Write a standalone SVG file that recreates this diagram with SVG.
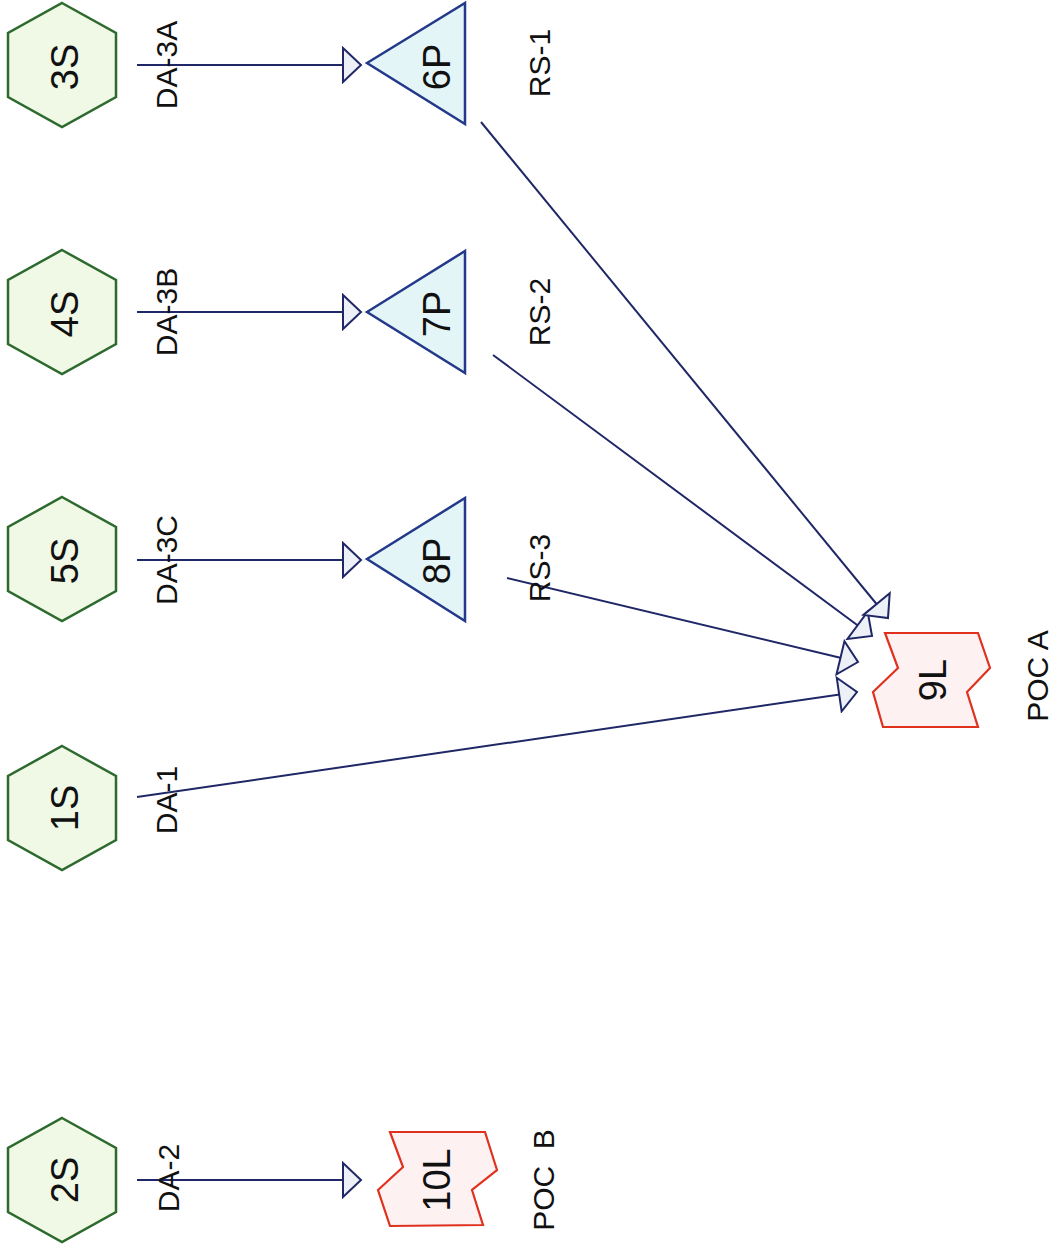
<svg xmlns="http://www.w3.org/2000/svg" width="1051" height="1251" viewBox="0 0 1051 1251">
<style>
text{font-family:"Liberation Sans",Arial,sans-serif;fill:#111;text-anchor:middle;dominant-baseline:central}
.lbl{font-size:30px}
.nl{font-size:38px}
.hex{fill:#f0f8e6;stroke:#2d6a2d;stroke-width:2.5}
.tri{fill:#e4f5f8;stroke:#23398a;stroke-width:2.5}
.poc{fill:#fdf1f1;stroke:#e0301e;stroke-width:2.2}
.edge{fill:none;stroke:#1f2766;stroke-width:2;marker-end:url(#arr)}
</style>
<defs>
<marker id="arr" markerUnits="userSpaceOnUse" markerWidth="22" markerHeight="38" viewBox="0 0 22 38" refX="20" refY="19" orient="auto">
<path d="M2,2 L20,19 L2,36 Z" fill="#eef0f8" stroke="#1f2766" stroke-width="2"/>
</marker>
</defs>
<g id="connectors">
<line class="edge" x1="137" y1="65" x2="361" y2="65"/>
<line class="edge" x1="137" y1="312" x2="361" y2="312"/>
<line class="edge" x1="137" y1="560" x2="361" y2="560"/>
<line class="edge" x1="137" y1="1180" x2="361" y2="1180"/>
<line class="edge" x1="137" y1="797" x2="857" y2="692"/>
<line class="edge" x1="507" y1="578" x2="858" y2="662"/>
<line class="edge" x1="493" y1="355" x2="872" y2="636"/>
<line class="edge" x1="481" y1="122" x2="888" y2="618"/>
</g>
<g id="node-3S"><polygon class="hex" points="62,3 116,33 116,97 62,127 8,97 8,33"/><text class="nl" transform="translate(65,67) rotate(-90)">3S</text></g>
<g id="node-4S"><polygon class="hex" points="62,250 116,280 116,344 62,374 8,344 8,280"/><text class="nl" transform="translate(65,314) rotate(-90)">4S</text></g>
<g id="node-5S"><polygon class="hex" points="62,497 116,527 116,591 62,621 8,591 8,527"/><text class="nl" transform="translate(65,561) rotate(-90)">5S</text></g>
<g id="node-1S"><polygon class="hex" points="62,746 116,776 116,840 62,870 8,840 8,776"/><text class="nl" transform="translate(65,808) rotate(-90)">1S</text></g>
<g id="node-2S"><polygon class="hex" points="62,1118 116,1148 116,1212 62,1242 8,1212 8,1148"/><text class="nl" transform="translate(65,1180) rotate(-90)">2S</text></g>
<g id="node-6P"><polygon class="tri" points="367,63 465,3 465,124"/><text class="nl" transform="translate(437,67) rotate(-90)">6P</text></g>
<g id="node-7P"><polygon class="tri" points="367,312 465,251 465,373"/><text class="nl" transform="translate(437,314) rotate(-90)">7P</text></g>
<g id="node-8P"><polygon class="tri" points="367,559 465,498 465,621"/><text class="nl" transform="translate(437,561) rotate(-90)">8P</text></g>
<g id="node-9L"><polygon class="poc" points="885,633 978,633 990,668 967,692 978,727 883,727 873,692 898,668"/><text class="nl" transform="translate(933,680) rotate(-90)">9L</text></g>
<g id="node-10L"><polygon class="poc" points="390,1132 485,1132 497,1170 472,1190 483,1225 390,1226 378,1190 403,1167"/><text class="nl" transform="translate(437,1180) rotate(-90)">10L</text></g>
<g id="labels">
<text class="lbl" transform="translate(166,65) rotate(-90)">DA-3A</text>
<text class="lbl" transform="translate(166,312) rotate(-90)">DA-3B</text>
<text class="lbl" transform="translate(166,560) rotate(-90)">DA-3C</text>
<text class="lbl" transform="translate(166,800) rotate(-90)">DA-1</text>
<text class="lbl" transform="translate(168,1178) rotate(-90)">DA-2</text>
<text class="lbl" transform="translate(539,63) rotate(-90)">RS-1</text>
<text class="lbl" transform="translate(539,312) rotate(-90)">RS-2</text>
<text class="lbl" transform="translate(539,568) rotate(-90)">RS-3</text>
<text class="lbl" transform="translate(1037,676) rotate(-90)">POC A</text>
<text class="lbl" transform="translate(543,1180) rotate(-90)" xml:space="preserve">POC  B</text>
</g>
</svg>
